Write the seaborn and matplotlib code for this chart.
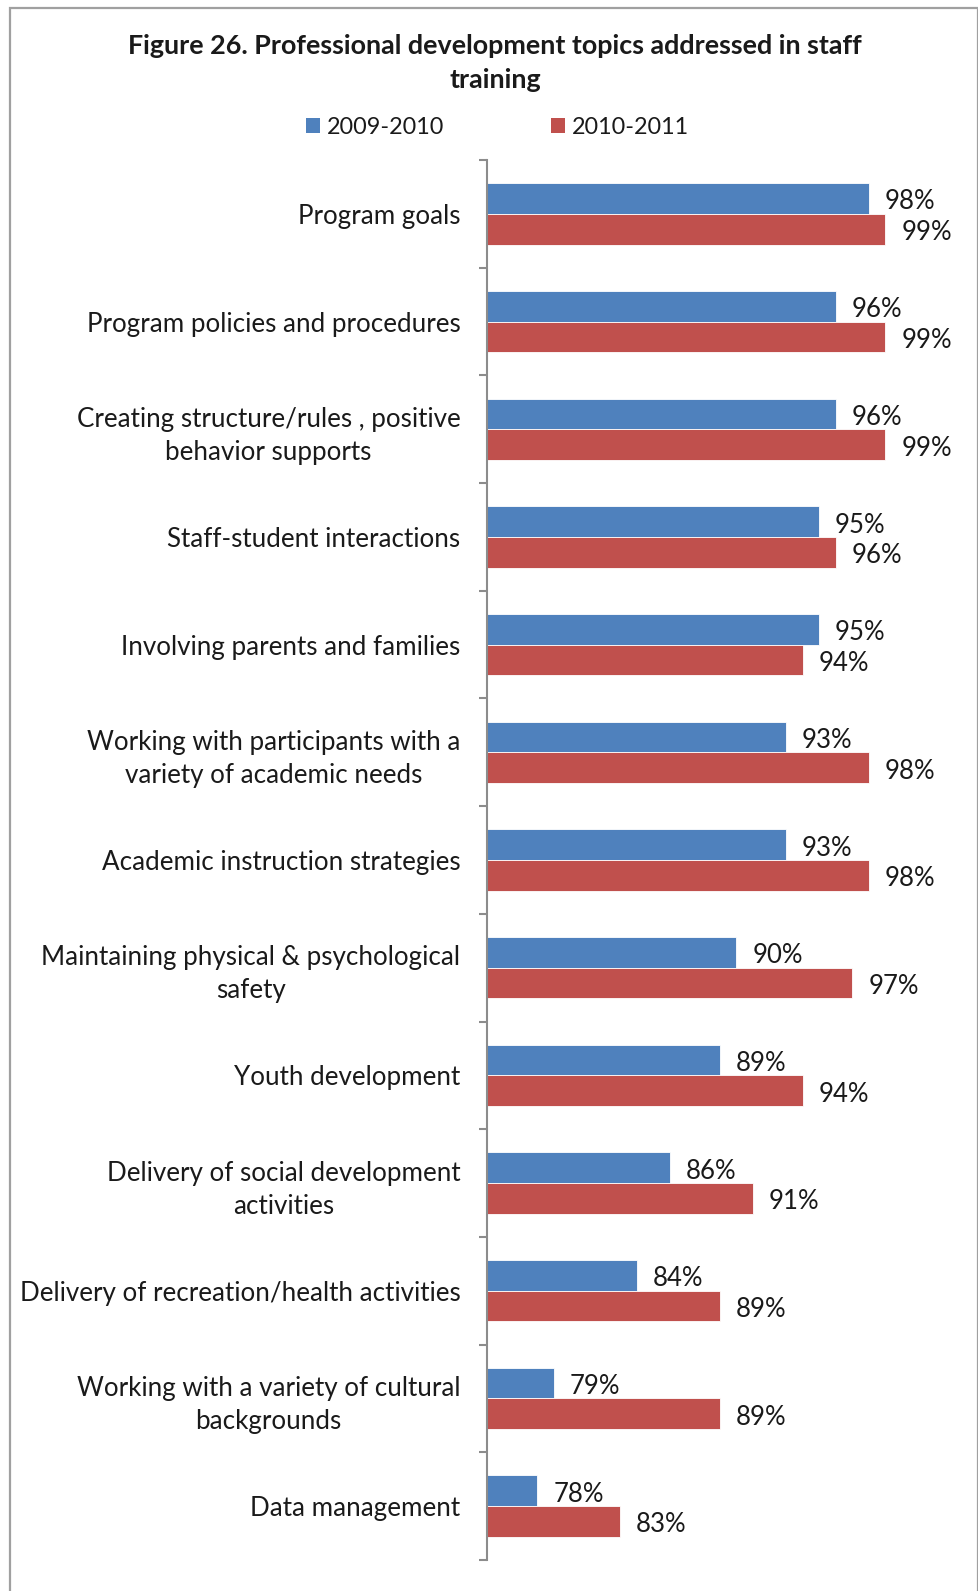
import matplotlib
matplotlib.use("Agg")
import matplotlib.pyplot as plt
from matplotlib.patches import Rectangle, Patch
import numpy as np
import pandas as pd
import seaborn as sns

# Topics, in chart order (top to bottom)
topics = [
    "Program goals",
    "Program policies and procedures",
    "Creating structure/rules , positive\nbehavior supports",
    "Staff-student interactions",
    "Involving parents and families",
    "Working with participants with a\nvariety of academic needs",
    "Academic instruction strategies",
    "Maintaining physical & psychological\nsafety",
    "Youth development",
    "Delivery of social development\nactivities",
    "Delivery of recreation/health activities",
    "Working with a variety of cultural\nbackgrounds",
    "Data management",
]
years = ["2009-2010", "2010-2011"]
pct_2009_2010 = [98, 96, 96, 95, 95, 93, 93, 90, 89, 86, 84, 79, 78]
pct_2010_2011 = [99, 99, 99, 96, 94, 98, 98, 97, 94, 91, 89, 89, 83]
colors = ["#4F81BD", "#C0504D"]

df = pd.DataFrame({
    "topic": topics * 2,
    "year": [years[0]] * len(topics) + [years[1]] * len(topics),
    "pct": pct_2009_2010 + pct_2010_2011,
})

sns.set_theme(style="white")
plt.rcParams["font.family"] = ["Lato", "DejaVu Sans"]

W, H = 979, 1591
fig = plt.figure(figsize=(W / 100, H / 100), dpi=100)
ax = fig.add_axes([487.5 / W, 1 - 1560 / H, (902 - 487.5) / W, (1560 - 160) / H])

sns.barplot(data=df, y="topic", x="pct", hue="year", order=topics,
            hue_order=years, palette=colors, orient="h", width=0.57,
            saturation=1, edgecolor="white", linewidth=0.6, legend=False, ax=ax)

ax.set_xlim(75, 100)
ax.set_ylim(len(topics) - 0.5, -0.5)
ax.set_xlabel("")
ax.set_ylabel("")
ax.set_xticks([])

for cont in ax.containers:
    labels = ax.bar_label(cont, fmt="%d%%", padding=11.5, fontsize=18.5,
                          color="#1a1a1a")
    for t in labels:
        # value labels sit a touch below the bar centre
        t.set_y(-2.5)

# axis styling: only the left spine with category-boundary ticks
for side in ["top", "right", "bottom"]:
    ax.spines[side].set_visible(False)
ax.spines["left"].set_color("#8c8c8c")
ax.spines["left"].set_linewidth(1.5)
ax.set_yticks(np.arange(len(topics)))
ax.set_yticklabels(topics, fontsize=18.7, color="#1a1a1a", linespacing=1.4,
                   multialignment="center")
ax.set_yticks(np.arange(-0.5, len(topics)), minor=True)
ax.tick_params(axis="y", which="major", length=0, pad=19.5)
ax.tick_params(axis="y", which="minor", length=6, width=1.5, color="#8c8c8c",
               direction="out", left=True)

# title
fig.text(495 / W, 1 - 63 / H,
         "Figure 26. Professional development topics addressed in staff\ntraining",
         ha="center", va="center", fontsize=19.4, fontweight="bold",
         color="#1a1a1a", linespacing=1.5)

# legend
handles = [Patch(facecolor=c, edgecolor="none") for c in colors]
fig.legend(handles, years, loc="center", bbox_to_anchor=(497.5 / W, 1 - 127 / H),
           ncol=2, frameon=False, fontsize=16.8, handlelength=0.6,
           handleheight=0.6, handletextpad=0.3, columnspacing=4.6,
           labelcolor="#1a1a1a")

# outer chart frame
fig.patches.append(Rectangle((10 / W, -0.01), (978 - 10) / W, 1 - 8 / H + 0.01,
                             transform=fig.transFigure, fill=False,
                             edgecolor="#a0a0a0", linewidth=1.6))

fig.savefig("out.png", dpi=100)
